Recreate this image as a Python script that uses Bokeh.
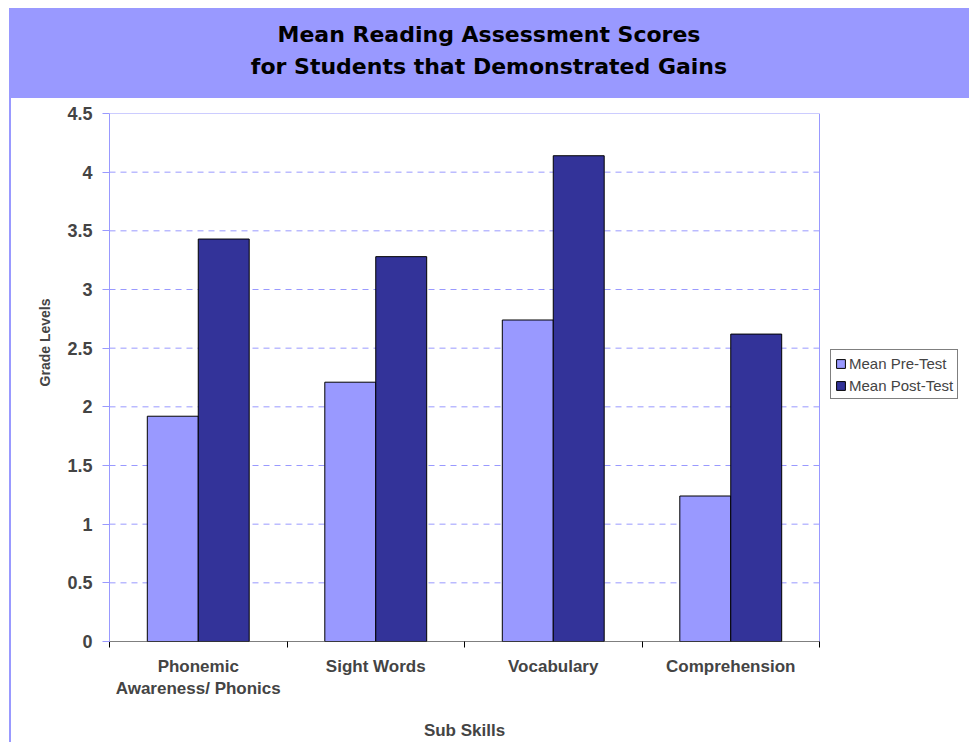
from bokeh.plotting import figure
from bokeh.layouts import column
from bokeh.models import (ColumnDataSource, FixedTicker, Legend, LegendItem, Range1d, Div, Title,
                          LinearAxis)
from bokeh.transform import dodge
from bokeh.embed import file_html
from bokeh.resources import INLINE

# ---- data ----
categories = ["Phonemic\nAwareness/ Phonics", "Sight Words", "Vocabulary", "Comprehension"]
pre_test = [1.92, 2.21, 2.74, 1.24]
post_test = [3.43, 3.28, 4.14, 2.62]
series_names = ["Mean Pre-Test", "Mean Post-Test"]
y_ticks = [0, 0.5, 1, 1.5, 2, 2.5, 3, 3.5, 4, 4.5]
y_tick_labels = ["0", "0.5", "1", "1.5", "2", "2.5", "3", "3.5", "4", "4.5"]
title_lines = ["Mean Reading Assessment Scores", "for Students that Demonstrated Gains"]
x_title = "Sub Skills"
y_title = "Grade Levels"

PRE_COLOR = "#9999FF"
POST_COLOR = "#333399"
LIGHT = "#9999FF"

n = len(categories)
centers = [i + 0.5 for i in range(n)]
boundaries = list(range(n + 1))
mid = n / 2
mid_key = int(mid) if mid == int(mid) else mid
src = ColumnDataSource(dict(x=centers, pre=pre_test, post=post_test))

# ---- header (title band) ----
head = Div(text="<div style='display:block; width:946px; text-align:center; "
                "font-family:\"DejaVu Sans\"; font-weight:bold; "
                "font-size:22px; line-height:32px; padding-top:11px; padding-left:14px; color:black;'>"
                + "<br>".join(title_lines) + "</div>",
           width=960, height=90, margin=(8, 0, 0, 9),
           styles={"background-color": LIGHT})

# ---- main chart ----
PW = 958            # canvas width (page width minus margin and left border line)
FRAME_L = 98        # frame left inside canvas
PLOT_R = 808        # right edge of the plotted area inside canvas
x_end = n * (PW - FRAME_L) / (PLOT_R - FRAME_L)

p = figure(width=PW, height=644, x_range=Range1d(0, x_end), y_range=Range1d(0, y_ticks[-1]),
           output_backend="svg", toolbar_location=None,
           min_border_left=FRAME_L, min_border_right=0, min_border_top=15, min_border_bottom=101)
p.styles = {"margin-left": "9px", "border-left": "2px solid #9999FF"}
p.background_fill_color = "white"
p.border_fill_color = "white"
p.outline_line_color = None
p.xgrid.grid_line_color = None
p.ygrid.grid_line_color = None

# grid lines and plot-area border
p.segment(x0=[0] * (len(y_ticks) - 2), x1=[n] * (len(y_ticks) - 2),
          y0=y_ticks[1:-1], y1=y_ticks[1:-1], line_color=LIGHT, line_width=1, line_dash="6 5")
p.segment(x0=[0, n], x1=[n, n], y0=[y_ticks[-1], 0], y1=[y_ticks[-1], y_ticks[-1]],
          line_color=LIGHT, line_width=1)

bw = 0.287
r1 = p.vbar(x=dodge("x", -bw / 2), top="pre", width=bw, source=src,
            fill_color=PRE_COLOR, line_color="black", line_width=1)
r2 = p.vbar(x=dodge("x", bw / 2), top="post", width=bw, source=src,
            fill_color=POST_COLOR, line_color="black", line_width=1)
# category axis line
p.segment(x0=[0], x1=[n], y0=[0], y1=[0], line_color="black", line_width=1)

# x axis
xa = p.xaxis[0]
xa.ticker = FixedTicker(ticks=centers, minor_ticks=boundaries)
xa.major_label_overrides = {c: lab for c, lab in zip(centers, categories)}
xa.major_tick_line_color = None
xa.major_tick_out = 0
xa.minor_tick_line_color = "black"
xa.minor_tick_out = 6
xa.minor_tick_in = 0
xa.axis_line_color = None
xa.major_label_text_font = "Liberation Sans"
xa.major_label_text_font_style = "bold"
xa.major_label_text_font_size = "17px"
xa.major_label_standoff = 9

# x axis title, centred under the category area
xt = LinearAxis(ticker=FixedTicker(ticks=[mid], minor_ticks=[]),
                major_label_overrides={mid_key: x_title})
xt.axis_line_color = None
xt.major_tick_line_color = None
xt.minor_tick_line_color = None
xt.major_tick_out = 0
xt.major_tick_in = 0
xt.major_label_standoff = 19
xt.major_label_text_font = "Liberation Sans"
xt.major_label_text_font_style = "bold"
xt.major_label_text_font_size = "17px"
p.add_layout(xt, "below")

# y axis
ya = p.yaxis[0]
ya.ticker = FixedTicker(ticks=y_ticks, minor_ticks=[])
ya.major_label_overrides = {t: lab for t, lab in zip(y_ticks, y_tick_labels)}
ya.axis_line_color = LIGHT
ya.major_tick_line_color = LIGHT
ya.major_tick_out = 7
ya.major_tick_in = 0
ya.minor_tick_line_color = None
ya.major_label_text_font = "Liberation Sans"
ya.major_label_text_font_style = "bold"
ya.major_label_text_font_size = "18px"
ya.major_label_standoff = 10

yt = Title(text=y_title, align="right", offset=185, standoff=24,
           text_font="Liberation Sans", text_font_style="bold", text_font_size="14px")
p.add_layout(yt, "left")

legend = Legend(items=[LegendItem(label=series_names[0], renderers=[r1]),
                       LegendItem(label=series_names[1], renderers=[r2])],
                location=(PLOT_R - FRAME_L + 11, 242), orientation="vertical")
legend.border_line_color = "black"
legend.border_line_width = 1
legend.background_fill_color = "white"
legend.label_text_font = "Liberation Sans"
legend.label_text_font_size = "15px"
legend.glyph_width = 11
legend.glyph_height = 11
legend.spacing = 4
legend.padding = 4
legend.margin = 0
legend.label_standoff = 3
legend.label_height = 18
p.add_layout(legend)

layout = column(head, p, spacing=0)
open("out.html", "w").write(file_html(layout, INLINE))
